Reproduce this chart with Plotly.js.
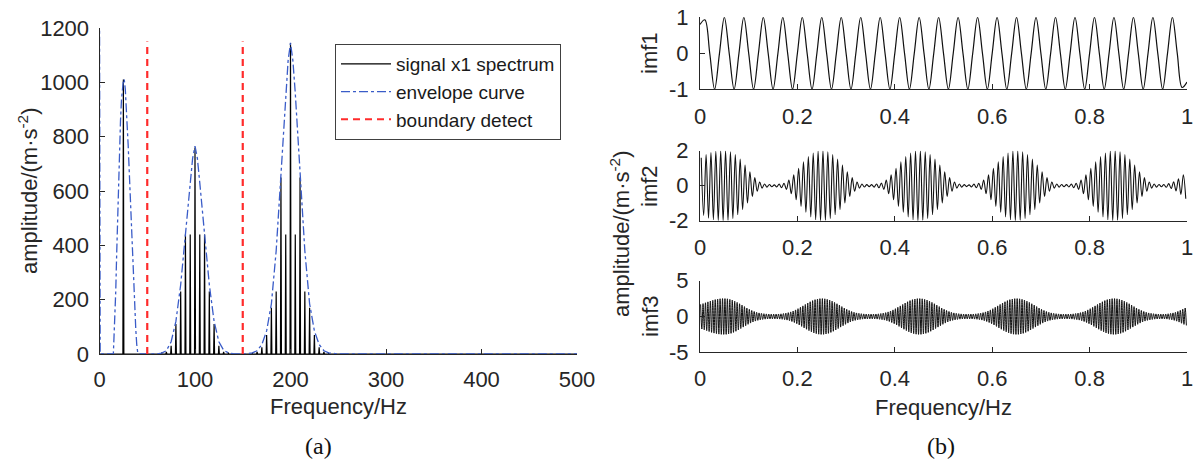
<!DOCTYPE html>
<html>
<head>
<meta charset="utf-8">
<script src="https://cdn.plot.ly/plotly-3.0.1.min.js"></script>
<style>html,body{margin:0;padding:0;background:#fff}#chart{width:1194px;height:461px}</style>
</head>
<body>
<div id="chart"></div>
<script>
// ---------- panel (a): spectrum ----------
const specFreq = [25, 65,70,75,80,85,90,95,100,105,110,115,120,125,130,135, 160,165,170,175,180,185,190,195,200,205,210,215,220,225,230,235,240];
const specAmp  = [1010, 3,8,30,110,230,440,440,760,440,440,230,110,30,8,3, 3,8,25,70,170,230,650,440,1145,440,650,230,170,70,25,8,3];

const envFreq = [0,0.7,14.5,16,17,18,19,20,21,22,23,24,25,25.5,26,27,28,29,30,31,32,33,34,35,36,37,38,39,40,41,
  58,62,65,70,75,80,85,90,95,97.5,100,102.5,105,110,115,120,125,130,135,140,145,
  150,155,160,165,170,175,180,185,190,195,197.5,200,202.5,205,210,215,220,225,230,235,240,245,250,500];
const envAmp = [1300,0,0,110,230,370,510,640,760,860,935,985,1008,1012,1008,975,920,850,770,685,595,505,415,325,240,160,90,35,5,0,
  0,1,3,12,45,120,255,430,630,720,765,720,630,430,255,120,45,14,4,1,0,
  0,1,4,12,35,85,185,380,670,960,1080,1145,1080,960,670,380,185,85,35,12,4,1,0,0];

const boundFreq = [50, 150];
const boundTop = 1150;

const specTicks = [0,100,200,300,400,500];
const ampTicks = [0,200,400,600,800,1000,1200];

// ---------- panel (b): imfs (extrema) ----------
const timeTicks = [0,0.2,0.4,0.6,0.8,1];
const timeTickText = ['0','0.2','0.4','0.6','0.8','1'];

const imf1Ticks = [-1,0,1];
const imf2Ticks = [-2,0,2];
const imf3Ticks = [-5,0,5];

// imf1 sampled every 0.01 s starting at 0
const imf1 = [0.8,0.93,
  0,-1,0,1,0,-1,0,1,0,-1,0,1,0,-1,0,1,
  0,-1,0,1,0,-1,0,1,0,-1,0,1,0,-1,0,1,
  0,-1,0,1,0,-1,0,1,0,-1,0,1,0,-1,0,1,
  0,-1,0,1,0,-1,0,1,0,-1,0,1,0,-1,0,1,
  0,-1,0,1,0,-1,0,1,0,-1,0,1,0,-1,0,1,
  0,-1,0,1,0,-1,0,1,0,-1,0,1,0,-1,0,1,
  0,-0.95,-0.8];

// imf2 extrema every 0.005 s starting at 0.0025
const imf2 = [1.6,-1.7,1.78,-1.85,1.9,-1.94,1.97,-1.99,2,-2,
  2,-1.98,1.94,-1.87,1.78,-1.66,1.52,-1.36,1.18,-0.99,0.8,-0.62,0.46,-0.32,0.21,-0.14,0.1,-0.08,0.07,-0.06,
  0.05,-0.07,0.09,-0.11,0.14,-0.21,0.32,-0.46,0.62,-0.8,0.99,-1.18,1.36,-1.52,1.66,-1.78,1.87,-1.94,1.98,-2,
  2,-1.98,1.94,-1.87,1.78,-1.66,1.52,-1.36,1.18,-0.99,0.8,-0.62,0.46,-0.32,0.21,-0.14,0.1,-0.07,0.06,-0.05,
  0.06,-0.08,0.1,-0.12,0.15,-0.21,0.32,-0.46,0.62,-0.8,0.99,-1.18,1.36,-1.52,1.66,-1.78,1.87,-1.94,1.98,-2,
  2,-1.98,1.94,-1.87,1.78,-1.66,1.52,-1.36,1.18,-0.99,0.8,-0.62,0.46,-0.32,0.21,-0.14,0.1,-0.08,0.06,-0.05,
  0.05,-0.07,0.09,-0.11,0.14,-0.21,0.32,-0.46,0.62,-0.8,0.99,-1.18,1.36,-1.52,1.66,-1.78,1.87,-1.94,1.98,-2,
  2,-1.98,1.94,-1.87,1.78,-1.66,1.52,-1.36,1.18,-0.99,0.8,-0.62,0.46,-0.32,0.21,-0.14,0.1,-0.08,0.07,-0.06,
  0.06,-0.07,0.09,-0.11,0.14,-0.21,0.32,-0.46,0.62,-0.8,0.99,-1.18,1.36,-1.52,1.66,-1.78,1.87,-1.94,1.98,-2,
  2,-1.98,1.94,-1.87,1.78,-1.66,1.52,-1.36,1.18,-0.99,0.8,-0.62,0.46,-0.32,0.21,-0.14,0.1,-0.08,0.07,-0.06,
  0.07,-0.09,0.12,-0.16,0.22,-0.3,0.4,-0.5,0.62,-0.75];

// imf3 extrema every 0.0025 s starting at 0.00125
const imf3 = [1.7,-1.75,1.8,-1.86,1.92,-1.98,2.04,-2.1,2.16,-2.22,2.27,-2.32,2.36,-2.4,2.43,-2.46,2.48,-2.49,2.5,-2.5,
  2.5,-2.49,2.47,-2.44,2.4,-2.35,2.29,-2.22,2.14,-2.06,1.97,-1.88,1.78,-1.68,1.58,-1.48,1.38,-1.28,1.18,-1.09,1,-0.92,0.84,-0.77,0.7,-0.64,0.59,-0.54,0.5,-0.47,0.44,-0.41,0.39,-0.37,0.36,-0.35,0.34,-0.34,0.33,-0.33,
  0.33,-0.33,0.34,-0.34,0.35,-0.36,0.37,-0.39,0.41,-0.44,0.47,-0.5,0.54,-0.59,0.64,-0.7,0.77,-0.84,0.92,-1,1.09,-1.18,1.28,-1.38,1.48,-1.58,1.68,-1.78,1.88,-1.97,2.06,-2.14,2.22,-2.29,2.35,-2.4,2.44,-2.47,2.49,-2.5,
  2.5,-2.49,2.47,-2.44,2.4,-2.35,2.29,-2.22,2.14,-2.06,1.97,-1.88,1.78,-1.68,1.58,-1.48,1.38,-1.28,1.18,-1.09,1,-0.92,0.84,-0.77,0.7,-0.64,0.59,-0.54,0.5,-0.47,0.44,-0.41,0.39,-0.37,0.36,-0.35,0.34,-0.34,0.33,-0.33,
  0.33,-0.33,0.34,-0.34,0.35,-0.36,0.37,-0.39,0.41,-0.44,0.47,-0.5,0.54,-0.59,0.64,-0.7,0.77,-0.84,0.92,-1,1.09,-1.18,1.28,-1.38,1.48,-1.58,1.68,-1.78,1.88,-1.97,2.06,-2.14,2.22,-2.29,2.35,-2.4,2.44,-2.47,2.49,-2.5,
  2.5,-2.49,2.47,-2.44,2.4,-2.35,2.29,-2.22,2.14,-2.06,1.97,-1.88,1.78,-1.68,1.58,-1.48,1.38,-1.28,1.18,-1.09,1,-0.92,0.84,-0.77,0.7,-0.64,0.59,-0.54,0.5,-0.47,0.44,-0.41,0.39,-0.37,0.36,-0.35,0.34,-0.34,0.33,-0.33,
  0.33,-0.33,0.34,-0.34,0.35,-0.36,0.37,-0.39,0.41,-0.44,0.47,-0.5,0.54,-0.59,0.64,-0.7,0.77,-0.84,0.92,-1,1.09,-1.18,1.28,-1.38,1.48,-1.58,1.68,-1.78,1.88,-1.97,2.06,-2.14,2.22,-2.29,2.35,-2.4,2.44,-2.47,2.49,-2.5,
  2.5,-2.49,2.47,-2.44,2.4,-2.35,2.29,-2.22,2.14,-2.06,1.97,-1.88,1.78,-1.68,1.58,-1.48,1.38,-1.28,1.18,-1.09,1,-0.92,0.84,-0.77,0.7,-0.64,0.59,-0.54,0.5,-0.47,0.44,-0.41,0.39,-0.37,0.36,-0.35,0.34,-0.34,0.33,-0.33,
  0.33,-0.33,0.34,-0.34,0.35,-0.36,0.37,-0.39,0.41,-0.44,0.47,-0.5,0.54,-0.59,0.64,-0.7,0.77,-0.84,0.92,-1,1.09,-1.18,1.28,-1.38,1.48,-1.58,1.68,-1.78,1.88,-1.97,2.06,-2.14,2.22,-2.29,2.35,-2.4,2.44,-2.47,2.49,-2.5,
  2.5,-2.49,2.47,-2.44,2.4,-2.35,2.29,-2.22,2.14,-2.06,1.97,-1.88,1.78,-1.68,1.58,-1.48,1.38,-1.28,1.18,-1.09,1,-0.92,0.84,-0.77,0.7,-0.64,0.59,-0.54,0.5,-0.47,0.44,-0.41,0.39,-0.37,0.36,-0.35,0.34,-0.34,0.33,-0.33,
  0.33,-0.34,0.35,-0.36,0.38,-0.4,0.43,-0.46,0.5,-0.54,0.59,-0.65,0.71,-0.78,0.86,-0.94,1.02,-1.1,1.18,-1.25];

// ---------- build traces ----------
const W = 1194, H = 461;
const px = v => v / W;
const py = v => 1 - v / H;

const AX = '#262626';
const FONT = 'Liberation Sans, Arial, Helvetica, sans-serif';
const SERIF = 'Liberation Serif, DejaVu Serif, serif';

// spectrum as stems drawn by a line trace
const sx = [0], sy = [0];
specFreq.forEach((f, i) => { sx.push(f - 0.5, f, f + 0.5); sy.push(0, specAmp[i], 0); });
sx.push(500); sy.push(0);

const bx = [], by = [];
boundFreq.forEach((f, i) => { if (i) { bx.push(null); by.push(null); } bx.push(f, f); by.push(0, boundTop); });

const traces = [
  {type:'scatter', mode:'lines', x:sx, y:sy, name:'signal x1 spectrum',
   line:{color:'#000000', width:1.2}, xaxis:'x', yaxis:'y'},
  {type:'scatter', mode:'lines', x:envFreq, y:envAmp, name:'envelope curve',
   line:{color:'#3a5cc8', width:1.3, dash:'dashdot'}, xaxis:'x', yaxis:'y'},
  {type:'scatter', mode:'lines', x:bx, y:by, name:'boundary detect',
   line:{color:'#ff2b2b', width:2.2, dash:'7px,5px'}, xaxis:'x', yaxis:'y'},
  {type:'scatter', mode:'lines', x0:0, dx:0.01, y:imf1, showlegend:false,
   line:{color:'#111111', width:1.2, shape:'spline', smoothing:1}, xaxis:'x2', yaxis:'y2'},
  {type:'scatter', mode:'lines', x0:0.0025, dx:0.005, y:imf2, showlegend:false,
   line:{color:'#111111', width:1.1, shape:'spline', smoothing:1}, xaxis:'x3', yaxis:'y3'},
  {type:'scatter', mode:'lines', x0:0.00125, dx:0.0025, y:imf3, showlegend:false,
   line:{color:'#111111', width:1, shape:'spline', smoothing:1}, xaxis:'x4', yaxis:'y4'}
];

const tickFont = {family: FONT, size: 22, color: AX};
function xAx(domain, range, tickvals, ticktext, anchor, standoff) {
  return {domain, range, anchor, tickmode:'array', tickvals, ticktext,
    ticks:'inside', ticklen:5, tickcolor:AX, tickwidth:1, showline:true, linecolor:AX, linewidth:1,
    showgrid:false, zeroline:false, tickfont:tickFont, ticklabelstandoff:standoff, fixedrange:true};
}
function yAx(domain, range, tickvals, anchor, standoff) {
  return {domain, range, anchor, tickmode:'array', tickvals, ticktext: tickvals.map(String),
    ticks:'inside', ticklen:5, tickcolor:AX, tickwidth:1, showline:true, linecolor:AX, linewidth:1,
    showgrid:false, zeroline:false, tickfont:tickFont, ticklabelstandoff:standoff, fixedrange:true};
}

const xR = [px(700), px(1187)];
const layout = {
  width: W, height: H,
  margin: {l:0, r:0, t:0, b:0},
  paper_bgcolor: '#ffffff', plot_bgcolor: 'rgba(0,0,0,0)',
  showlegend: true,
  legend: {x: px(335), y: py(44), xanchor:'left', yanchor:'top', bgcolor:'#ffffff',
    bordercolor:'#404040', borderwidth:1, font:{family:FONT, size:19, color:'#1a1a1a'},
    itemwidth: 50, tracegroupgap: 0},
  xaxis:  xAx([px(99.5), px(577)], [0, 500], specTicks, specTicks.map(String), 'y', 6),
  yaxis:  yAx([py(354), py(28)], [0, 1200], ampTicks, 'x', 5),
  xaxis2: xAx(xR, [0, 1], timeTicks, timeTickText, 'y2', 7),
  yaxis2: yAx([py(89.3), py(17.3)], [-1, 1], imf1Ticks, 'x2', 6),
  xaxis3: xAx(xR, [0, 1], timeTicks, timeTickText, 'y3', 7),
  yaxis3: yAx([py(220.7), py(150.7)], [-2, 2], imf2Ticks, 'x3', 6),
  xaxis4: xAx(xR, [0, 1], timeTicks, timeTickText, 'y4', 6),
  yaxis4: yAx([py(352.3), py(280.7)], [-5, 5], imf3Ticks, 'x4', 6),
  annotations: [
    {text:'amplitude/(m·s<sup>-2</sup>)', x:px(28), y:py(191), textangle:-90},
    {text:'Frequency/Hz', x:px(338), y:py(406)},
    {text:'(a)', x:px(318), y:py(446), font:{family:SERIF, size:24, color:'#111'}},
    {text:'amplitude/(m·s<sup>-2</sup>)', x:px(620), y:py(234), textangle:-90},
    {text:'imf1', x:px(650), y:py(53), textangle:-90},
    {text:'imf2', x:px(650), y:py(186), textangle:-90},
    {text:'imf3', x:px(650), y:py(316), textangle:-90},
    {text:'Frequency/Hz', x:px(943), y:py(407)},
    {text:'(b)', x:px(941), y:py(446), font:{family:SERIF, size:24, color:'#111'}}
  ].map(a => Object.assign({xref:'paper', yref:'paper', showarrow:false, xanchor:'center', yanchor:'middle',
      font:{family:FONT, size:22, color:AX}}, a))
};

Plotly.newPlot('chart', traces, layout, {staticPlot:true, displayModeBar:false});
</script>
</body>
</html>
